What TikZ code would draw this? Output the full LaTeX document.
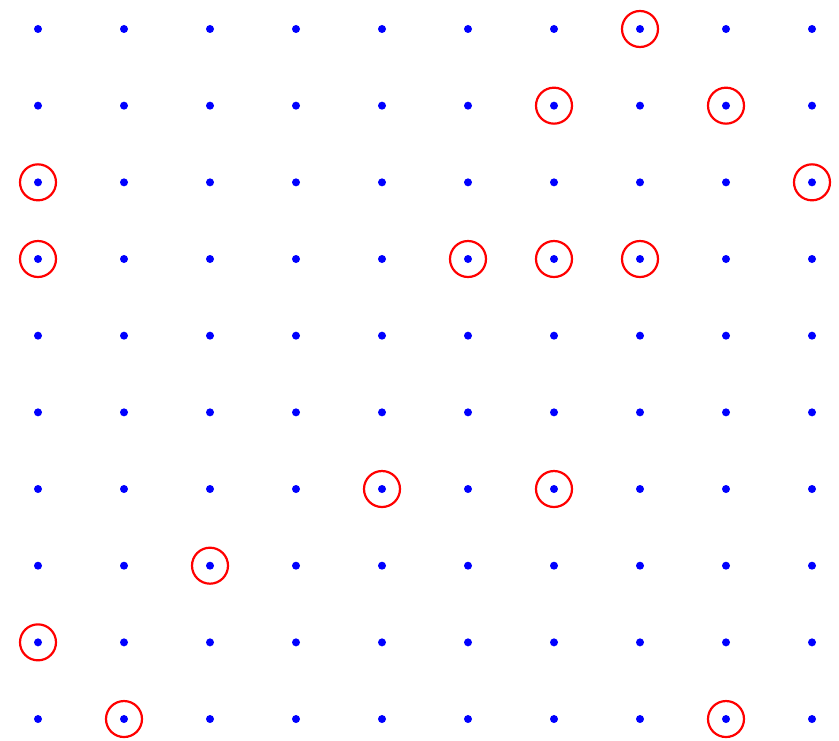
\documentclass[tikz,border=0pt]{standalone}
\begin{document}
\begin{tikzpicture}[x=1pt,y=-1pt,
  gdot/.style={circle,fill=blue,inner sep=0pt,minimum size=8pt},
  ring/.style={circle,draw=red,line width=2.2pt,inner sep=0pt,minimum size=36pt}]
\useasboundingbox (0,0) rectangle (839,741);
\foreach \i in {0,...,9}{
  \foreach \j in {0,...,9}{
    \node[gdot] (d\i-\j) at ({38+86*\i},{29+76.67*\j}) {};
  }
}
\foreach \i/\j in {7/0,6/1,8/1,0/2,9/2,0/3,5/3,6/3,7/3,4/6,6/6,2/7,0/8,1/9,8/9}{
  \node[ring] (r\i-\j) at (d\i-\j) {};
}
\end{tikzpicture}
\end{document}
